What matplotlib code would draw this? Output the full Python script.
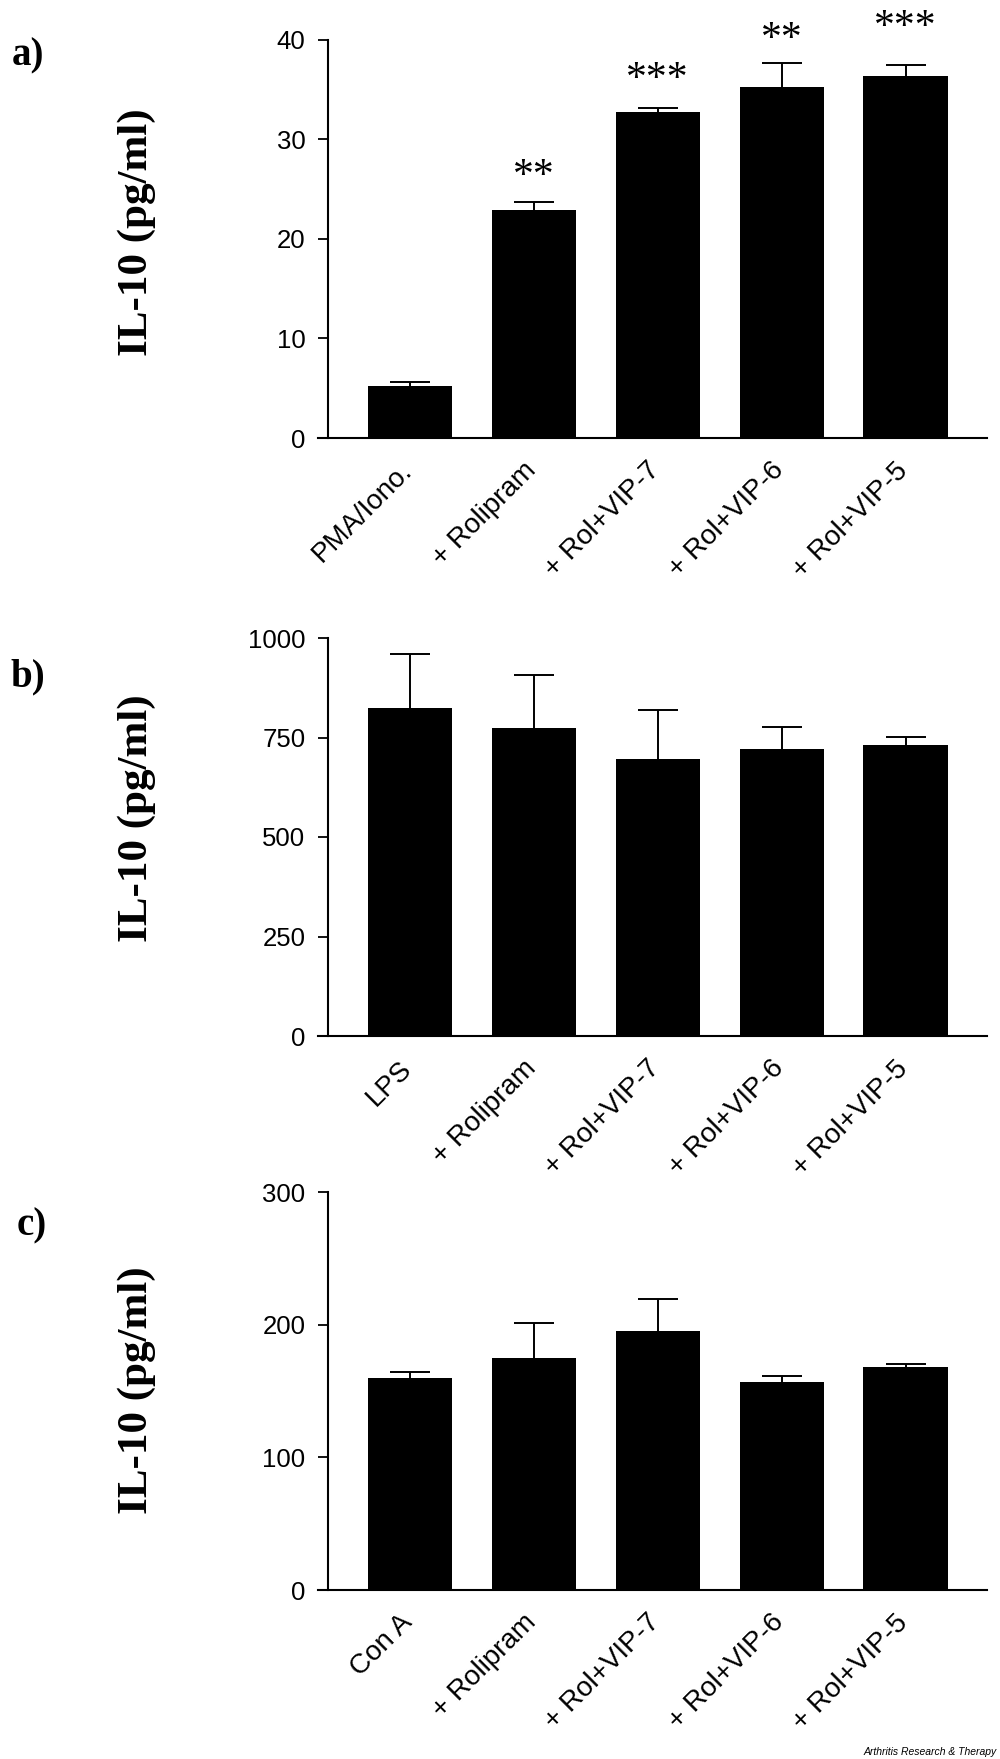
import numpy as np
import matplotlib
matplotlib.use("Agg")
import matplotlib.pyplot as plt
import matplotlib.transforms as mtransforms

# ---------------- data ----------------
labels_a = ["PMA/Iono.", "+ Rolipram", "+ Rol+VIP-7", "+ Rol+VIP-6", "+ Rol+VIP-5"]
means_a = [5.2, 22.9, 32.8, 35.3, 36.4]
err_a = [0.4, 0.8, 0.4, 2.4, 1.1]
stars_a = ["", "**", "***", "**", "***"]
star_y_a = [np.nan, 26.9, 36.7, 40.7, 41.9]
ticks_a = [0, 10, 20, 30, 40]

labels_b = ["LPS", "+ Rolipram", "+ Rol+VIP-7", "+ Rol+VIP-6", "+ Rol+VIP-5"]
means_b = [825, 775, 695, 722, 732]
err_b = [135, 132, 125, 55, 20]
ticks_b = [0, 250, 500, 750, 1000]

labels_c = ["Con A", "+ Rolipram", "+ Rol+VIP-7", "+ Rol+VIP-6", "+ Rol+VIP-5"]
means_c = [159.5, 175, 195.6, 156.5, 167.8]
err_c = [4.5, 26, 23.4, 4.5, 2.2]
ticks_c = [0, 100, 200, 300]

panel_letters = ["a)", "b)", "c)"]
ylabel_text = "IL-10 (pg/ml)"

# ---------------- layout ----------------
W, H = 1000, 1759
fig = plt.figure(figsize=(W / 100, H / 100), dpi=100)

SANS = "Liberation Sans"
SERIF = "Liberation Serif"

# axes pixel boxes: (top, bottom)
boxes = [(40, 438), (638, 1036), (1192, 1590)]
ylabel_centers = [232, 818, 1390]
ax_left_px, ax_right_px = 318, 987
letter_pos = [(28, 56), (28, 677), (32, 1226)]

panels = [
    (labels_a, means_a, err_a, ticks_a, stars_a, star_y_a),
    (labels_b, means_b, err_b, ticks_b, None, None),
    (labels_c, means_c, err_c, ticks_c, None, None),
]

label_shift = mtransforms.ScaledTranslation(-11 / 100, 0, fig.dpi_scale_trans)

for i, (labels, means, errs, ticks, stars, star_y) in enumerate(panels):
    top, bot = boxes[i]
    ax = fig.add_axes([ax_left_px / W, 1 - bot / H,
                       (ax_right_px - ax_left_px) / W, (bot - top) / H])
    x = np.arange(len(labels))
    ax.errorbar(x, means, yerr=errs, fmt="none",
                ecolor="black", elinewidth=1.4, capsize=14.5, capthick=1.4,
                zorder=1)
    ax.bar(x, means, width=0.68, color="black", edgecolor="none", zorder=2)
    ax.set_xlim(-0.742, 4.657)
    ax.set_ylim(0, ticks[-1])
    ax.spines["left"].set_position(("data", -0.662))
    for s in ["top", "right"]:
        ax.spines[s].set_visible(False)
    for s in ["left", "bottom"]:
        ax.spines[s].set_linewidth(1.5)
    ax.set_yticks(ticks)
    ax.set_yticklabels([str(t) for t in ticks], family=SANS, fontsize=18.5)
    ax.tick_params(axis="y", direction="out", length=7.2, width=1.3, pad=9)
    ax.set_xticks(x)
    ax.set_xticklabels(labels, family=SANS, fontsize=20, rotation=45,
                       ha="right", rotation_mode="anchor")
    ax.tick_params(axis="x", length=0, pad=14)
    for lab in ax.get_xticklabels():
        lab.set_transform(lab.get_transform() + label_shift)
    ax.set_facecolor("none")

    if stars is not None:
        for xi, s, sy in zip(x, stars, star_y):
            if s:
                ax.annotate(s, xy=(xi, sy), xytext=(0, -12),
                            textcoords="offset points", ha="center",
                            va="baseline", fontsize=30, family=SERIF,
                            annotation_clip=False)

    # y label
    fig.text(137 / W, 1 - ylabel_centers[i] / H, ylabel_text, rotation=90,
             ha="center", va="center", family=SERIF, fontweight="bold",
             fontsize=31)
    lx, ly = letter_pos[i]
    fig.text(lx / W, 1 - ly / H, panel_letters[i], ha="center", va="center",
             family=SERIF, fontweight="bold", fontsize=28)

fig.text(0.997, 1 - 1752 / H, "Arthritis Research & Therapy", ha="right",
         va="center", family=SANS, style="italic", fontsize=7.5)

fig.savefig("out.png", dpi=100, facecolor="white")
